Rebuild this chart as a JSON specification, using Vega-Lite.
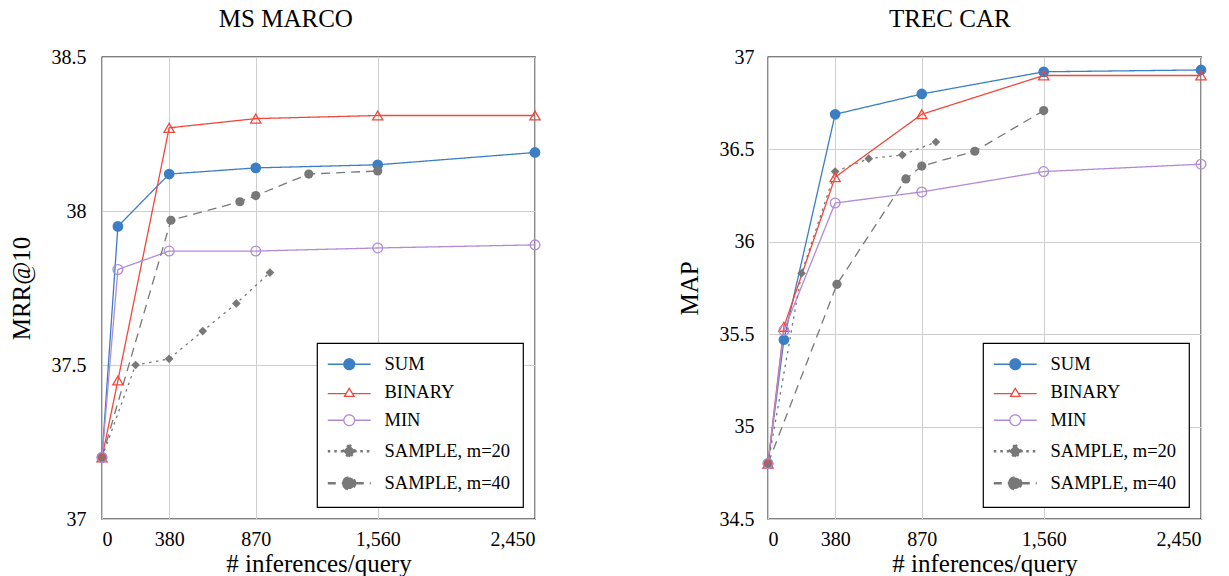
{
  "$schema": "https://vega.github.io/schema/vega-lite/v6.json",
  "padding": {"left": 8, "top": 6, "right": 0, "bottom": 0},
  "background": "white",
  "datasets": {
    "marco": [
      {"method": "SUM", "x": 0, "y": 37.2}, {"method": "SUM", "x": 90, "y": 37.95}, {"method": "SUM", "x": 380, "y": 38.12}, {"method": "SUM", "x": 870, "y": 38.14}, {"method": "SUM", "x": 1560, "y": 38.15}, {"method": "SUM", "x": 2450, "y": 38.19},
      {"method": "BINARY", "x": 0, "y": 37.2}, {"method": "BINARY", "x": 90, "y": 37.45}, {"method": "BINARY", "x": 380, "y": 38.27}, {"method": "BINARY", "x": 870, "y": 38.30}, {"method": "BINARY", "x": 1560, "y": 38.31}, {"method": "BINARY", "x": 2450, "y": 38.31},
      {"method": "MIN", "x": 0, "y": 37.2}, {"method": "MIN", "x": 90, "y": 37.81}, {"method": "MIN", "x": 380, "y": 37.87}, {"method": "MIN", "x": 870, "y": 37.87}, {"method": "MIN", "x": 1560, "y": 37.88}, {"method": "MIN", "x": 2450, "y": 37.89},
      {"method": "SAMPLE, m=20", "x": 0, "y": 37.2}, {"method": "SAMPLE, m=20", "x": 190, "y": 37.50}, {"method": "SAMPLE, m=20", "x": 380, "y": 37.52}, {"method": "SAMPLE, m=20", "x": 570, "y": 37.61}, {"method": "SAMPLE, m=20", "x": 760, "y": 37.70}, {"method": "SAMPLE, m=20", "x": 950, "y": 37.80},
      {"method": "SAMPLE, m=40", "x": 0, "y": 37.2}, {"method": "SAMPLE, m=40", "x": 390, "y": 37.97}, {"method": "SAMPLE, m=40", "x": 780, "y": 38.03}, {"method": "SAMPLE, m=40", "x": 870, "y": 38.05}, {"method": "SAMPLE, m=40", "x": 1170, "y": 38.12}, {"method": "SAMPLE, m=40", "x": 1560, "y": 38.13}
    ],
    "trec": [
      {"method": "SUM", "x": 0, "y": 34.8}, {"method": "SUM", "x": 90, "y": 35.47}, {"method": "SUM", "x": 380, "y": 36.69}, {"method": "SUM", "x": 870, "y": 36.80}, {"method": "SUM", "x": 1560, "y": 36.92}, {"method": "SUM", "x": 2450, "y": 36.93},
      {"method": "BINARY", "x": 0, "y": 34.8}, {"method": "BINARY", "x": 90, "y": 35.54}, {"method": "BINARY", "x": 380, "y": 36.35}, {"method": "BINARY", "x": 870, "y": 36.69}, {"method": "BINARY", "x": 1560, "y": 36.90}, {"method": "BINARY", "x": 2450, "y": 36.90},
      {"method": "MIN", "x": 0, "y": 34.8}, {"method": "MIN", "x": 90, "y": 35.52}, {"method": "MIN", "x": 380, "y": 36.21}, {"method": "MIN", "x": 870, "y": 36.27}, {"method": "MIN", "x": 1560, "y": 36.38}, {"method": "MIN", "x": 2450, "y": 36.42},
      {"method": "SAMPLE, m=20", "x": 0, "y": 34.8}, {"method": "SAMPLE, m=20", "x": 190, "y": 35.83}, {"method": "SAMPLE, m=20", "x": 380, "y": 36.38}, {"method": "SAMPLE, m=20", "x": 570, "y": 36.45}, {"method": "SAMPLE, m=20", "x": 760, "y": 36.47}, {"method": "SAMPLE, m=20", "x": 950, "y": 36.54},
      {"method": "SAMPLE, m=40", "x": 0, "y": 34.8}, {"method": "SAMPLE, m=40", "x": 390, "y": 35.77}, {"method": "SAMPLE, m=40", "x": 780, "y": 36.34}, {"method": "SAMPLE, m=40", "x": 870, "y": 36.41}, {"method": "SAMPLE, m=40", "x": 1170, "y": 36.49}, {"method": "SAMPLE, m=40", "x": 1560, "y": 36.71}
    ]
  },
  "config": {
    "font": "Liberation Serif",
    "view": {"stroke": "black", "strokeWidth": 1.3},
    "axis": {
      "labelFont": "Liberation Serif", "labelFontSize": 20, "labelColor": "black",
      "titleFont": "Liberation Serif", "titleFontSize": 25, "titleFontWeight": "normal", "titleColor": "black",
      "gridColor": "#cfcfcf", "gridWidth": 1, "ticks": false, "domain": false, "labelPadding": 10
    },
    "legend": {
      "orient": "bottom-right", "offset": 12, "padding": 12, "strokeColor": "black", "strokeWidth": 1.2,
      "fillColor": "white", "cornerRadius": 0, "labelFont": "Liberation Serif", "labelFontSize": 18.5,
      "labelColor": "black", "symbolSize": 80, "symbolOffset": 11, "labelOffset": 26, "rowPadding": 9
    },
    "title": {"font": "Liberation Serif", "fontSize": 25, "fontWeight": "normal", "color": "black", "frame": "bounds", "anchor": "middle", "baseline": "bottom", "offset": 15}
  },
  "spacing": 132,
  "resolve": {
    "scale": {"color": "independent", "shape": "independent", "strokeDash": "independent", "strokeWidth": "independent", "size": "independent", "fill": "independent", "stroke": "independent"},
    "legend": {"color": "independent"}
  },
  "hconcat": [
    {
      "title": {"text": "MS MARCO", "dx": 10},
      "width": 433, "height": 462,
      "data": {"name": "marco"},
      "layer": [
        {
          "mark": {"type": "line"},
          "encoding": {
            "x": {"field": "x", "type": "quantitative", "scale": {"domain": [0, 2450], "nice": false}, "axis": {"values": [0, 380, 870, 1560, 2450], "format": ",.0f", "title": "# inferences/query", "titlePadding": 2}},
            "y": {"field": "y", "type": "quantitative", "scale": {"domain": [37, 38.5], "nice": false, "zero": false}, "axis": {"values": [37, 37.5, 38, 38.5], "format": ".1~f", "title": "MRR@10", "titlePadding": 17, "labelPadding": 16}},
            "color": {"field": "method", "type": "nominal", "title": null,
              "scale": {"domain": ["SUM", "BINARY", "MIN", "SAMPLE, m=20", "SAMPLE, m=40"], "range": ["#3b7ec4", "#f0483c", "#b38ad8", "#787878", "#787878"]},
              "legend": {
                "title": null,
                "encode": {
                  "symbols": {
                    "update": {
                      "shape": {"signal": "datum.value === 'SUM' ? 'M-4.8,0H-1.2M1.2,0H4.8M-1.2,0A1.2,1.2,0,1,0,1.2,0A1.2,1.2,0,1,0,-1.2,0Z' : datum.value === 'BINARY' ? 'M-4.8,0.3H-0.7M0.7,0.3H4.8M0,-0.9L1.05,0.9L-1.05,0.9Z' : datum.value === 'MIN' ? 'M-4.8,0H-1.2M1.2,0H4.8M-1.2,0A1.2,1.2,0,1,0,1.2,0A1.2,1.2,0,1,0,-1.2,0Z' : datum.value === 'SAMPLE, m=20' ? 'M-4.8,0H4.8M0,-1.4L1.4,0L0,1.4L-1.4,0Z' : 'M-4.8,0H4.8M-1.3,0A1.3,1.3,0,1,0,1.3,0A1.3,1.3,0,1,0,-1.3,0Z'"},
                      "fill": {"signal": "datum.value === 'SUM' ? '#3b7ec4' : (datum.value === 'BINARY' || datum.value === 'MIN') ? 'white' : '#787878'"},
                      "strokeWidth": {"signal": "(datum.value === 'SAMPLE, m=20' || datum.value === 'SAMPLE, m=40') ? 2.6 : 1.3"},
                      "strokeDash": {"signal": "datum.value === 'SAMPLE, m=20' ? [2.5, 4] : datum.value === 'SAMPLE, m=40' ? [8, 6] : [1, 0]"}
                    }
                  }
                }
              }
            },
            "strokeDash": {"field": "method", "type": "nominal", "legend": null,
              "scale": {"domain": ["BINARY", "SUM", "MIN", "SAMPLE, m=20", "SAMPLE, m=40"], "range": [[1, 0], [1, 0], [1, 0], [2.5, 4.5], [9, 6]]}},
            "strokeWidth": {"field": "method", "type": "nominal", "legend": null,
              "scale": {"domain": ["SUM", "MIN", "BINARY", "SAMPLE, m=20", "SAMPLE, m=40"], "range": [1.3, 1.3, 1.3, 2.8, 2.8]}}
          }
        },
        {
          "transform": [{"filter": {"field": "method", "oneOf": ["SUM", "SAMPLE, m=20", "SAMPLE, m=40"]}}],
          "mark": {"type": "point", "filled": true, "opacity": 1},
          "encoding": {
            "x": {"field": "x", "type": "quantitative"},
            "y": {"field": "y", "type": "quantitative"},
            "fill": {"field": "method", "type": "nominal", "legend": null,
              "scale": {"domain": ["MIN", "SUM", "BINARY", "SAMPLE, m=20", "SAMPLE, m=40"], "range": ["#b38ad8", "#3b7ec4", "#f0483c", "#787878", "#787878"]}},
            "shape": {"field": "method", "type": "nominal", "legend": null,
              "scale": {"domain": ["SUM", "BINARY", "SAMPLE, m=20", "MIN", "SAMPLE, m=40"], "range": ["circle", "triangle-up", "diamond", "circle", "circle"]}},
            "size": {"field": "method", "type": "nominal", "legend": null,
              "scale": {"domain": ["SUM", "BINARY", "MIN", "SAMPLE, m=40", "SAMPLE, m=20"], "range": [115, 75, 130, 170, 210]}}
          }
        },
        {
          "transform": [{"filter": {"field": "method", "oneOf": ["BINARY", "MIN"]}}],
          "mark": {"type": "point", "filled": false, "opacity": 1, "strokeWidth": 1.3},
          "encoding": {
            "x": {"field": "x", "type": "quantitative"},
            "y": {"field": "y", "type": "quantitative"},
            "stroke": {"field": "method", "type": "nominal", "legend": null,
              "scale": {"domain": ["SAMPLE, m=40", "SUM", "BINARY", "MIN", "SAMPLE, m=20"], "range": ["#787878", "#3b7ec4", "#f0483c", "#b38ad8", "#787878"]}},
            "shape": {"field": "method", "type": "nominal", "legend": null},
            "size": {"field": "method", "type": "nominal", "legend": null}
          }
        }
      ]
    },
    {
      "title": {"text": "TREC CAR", "dx": 7},
      "width": 433, "height": 462,
      "data": {"name": "trec"},
      "layer": [
        {
          "mark": {"type": "line"},
          "encoding": {
            "x": {"field": "x", "type": "quantitative", "scale": {"domain": [0, 2450], "nice": false}, "axis": {"values": [0, 380, 870, 1560, 2450], "format": ",.0f", "title": "# inferences/query", "titlePadding": 2}},
            "y": {"field": "y", "type": "quantitative", "scale": {"domain": [34.5, 37], "nice": false, "zero": false}, "axis": {"values": [34.5, 35, 35.5, 36, 36.5, 37], "format": ".1~f", "title": "MAP", "titlePadding": 17, "labelPadding": 14}},
            "color": {"field": "method", "type": "nominal", "title": null,
              "scale": {"domain": ["SUM", "BINARY", "MIN", "SAMPLE, m=20", "SAMPLE, m=40"], "range": ["#3b7ec4", "#f0483c", "#b38ad8", "#787878", "#787878"]},
              "legend": {
                "title": null,
                "encode": {
                  "symbols": {
                    "update": {
                      "shape": {"signal": "datum.value === 'SUM' ? 'M-4.8,0H-1.2M1.2,0H4.8M-1.2,0A1.2,1.2,0,1,0,1.2,0A1.2,1.2,0,1,0,-1.2,0Z' : datum.value === 'BINARY' ? 'M-4.8,0.3H-0.7M0.7,0.3H4.8M0,-0.9L1.05,0.9L-1.05,0.9Z' : datum.value === 'MIN' ? 'M-4.8,0H-1.2M1.2,0H4.8M-1.2,0A1.2,1.2,0,1,0,1.2,0A1.2,1.2,0,1,0,-1.2,0Z' : datum.value === 'SAMPLE, m=20' ? 'M-4.8,0H4.8M0,-1.4L1.4,0L0,1.4L-1.4,0Z' : 'M-4.8,0H4.8M-1.3,0A1.3,1.3,0,1,0,1.3,0A1.3,1.3,0,1,0,-1.3,0Z'"},
                      "fill": {"signal": "datum.value === 'SUM' ? '#3b7ec4' : (datum.value === 'BINARY' || datum.value === 'MIN') ? 'white' : '#787878'"},
                      "strokeWidth": {"signal": "(datum.value === 'SAMPLE, m=20' || datum.value === 'SAMPLE, m=40') ? 2.6 : 1.3"},
                      "strokeDash": {"signal": "datum.value === 'SAMPLE, m=20' ? [2.5, 4] : datum.value === 'SAMPLE, m=40' ? [8, 6] : [1, 0]"}
                    }
                  }
                }
              }
            },
            "strokeDash": {"field": "method", "type": "nominal", "legend": null,
              "scale": {"domain": ["BINARY", "SUM", "MIN", "SAMPLE, m=20", "SAMPLE, m=40"], "range": [[1, 0], [1, 0], [1, 0], [2.5, 4.5], [9, 6]]}},
            "strokeWidth": {"field": "method", "type": "nominal", "legend": null,
              "scale": {"domain": ["SUM", "MIN", "BINARY", "SAMPLE, m=20", "SAMPLE, m=40"], "range": [1.3, 1.3, 1.3, 2.8, 2.8]}}
          }
        },
        {
          "transform": [{"filter": {"field": "method", "oneOf": ["SUM", "SAMPLE, m=20", "SAMPLE, m=40"]}}],
          "mark": {"type": "point", "filled": true, "opacity": 1},
          "encoding": {
            "x": {"field": "x", "type": "quantitative"},
            "y": {"field": "y", "type": "quantitative"},
            "fill": {"field": "method", "type": "nominal", "legend": null,
              "scale": {"domain": ["MIN", "SUM", "BINARY", "SAMPLE, m=20", "SAMPLE, m=40"], "range": ["#b38ad8", "#3b7ec4", "#f0483c", "#787878", "#787878"]}},
            "shape": {"field": "method", "type": "nominal", "legend": null,
              "scale": {"domain": ["SUM", "BINARY", "SAMPLE, m=20", "MIN", "SAMPLE, m=40"], "range": ["circle", "triangle-up", "diamond", "circle", "circle"]}},
            "size": {"field": "method", "type": "nominal", "legend": null,
              "scale": {"domain": ["SUM", "BINARY", "MIN", "SAMPLE, m=40", "SAMPLE, m=20"], "range": [115, 75, 130, 170, 210]}}
          }
        },
        {
          "transform": [{"filter": {"field": "method", "oneOf": ["BINARY", "MIN"]}}],
          "mark": {"type": "point", "filled": false, "opacity": 1, "strokeWidth": 1.3},
          "encoding": {
            "x": {"field": "x", "type": "quantitative"},
            "y": {"field": "y", "type": "quantitative"},
            "stroke": {"field": "method", "type": "nominal", "legend": null,
              "scale": {"domain": ["SAMPLE, m=40", "SUM", "BINARY", "MIN", "SAMPLE, m=20"], "range": ["#787878", "#3b7ec4", "#f0483c", "#b38ad8", "#787878"]}},
            "shape": {"field": "method", "type": "nominal", "legend": null},
            "size": {"field": "method", "type": "nominal", "legend": null}
          }
        }
      ]
    }
  ]
}
